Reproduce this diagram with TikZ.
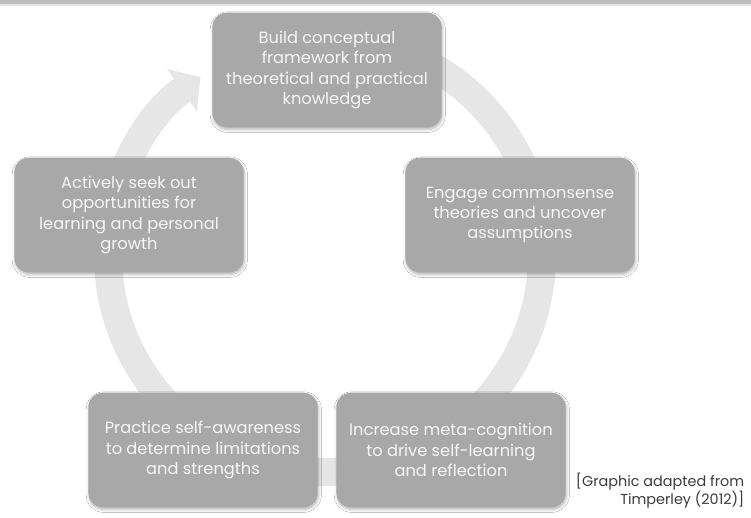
\documentclass[tikz,border=0pt]{standalone}
\usepackage{fontspec}
\setmainfont{Poppins}
\usepackage{xcolor}
\usepackage{tikz}
\usetikzlibrary{arrows.meta,shadows.blur}
\definecolor{boxgray}{RGB}{168,168,168}
\definecolor{ringgray}{RGB}{230,230,230}
\definecolor{bargray}{RGB}{190,190,190}
\definecolor{boxtext}{RGB}{246,246,246}
\definecolor{notetext}{RGB}{60,60,60}

\begin{document}
\begin{tikzpicture}[
		x=0.75pt,
		y=0.75pt,
		stage/.style={
			rounded corners=11pt,
			fill=boxgray,
			blur shadow={
				shadow blur steps=5,
				shadow xshift=0.6pt,
				shadow yshift=-1.6pt,
				shadow opacity=30
			},
			minimum width=172pt,
			minimum height=86pt,
			align=center,
			inner sep=4pt,
			text=boxtext,
			font=\fontsize{12.2}{15.2}\selectfont
		},
		ring/.style={
			draw=ringgray,
			line width=21pt,
			-{Triangle[length=17pt,width=38pt]}
		},
		note/.style={font=\fontsize{10.8}{12.4}\selectfont, text=notetext, align=right}
	]
	
	% Canvas
	\useasboundingbox (0,0) rectangle (751,-518);
	\fill[white] (0,0) rectangle (751,-518);
	
	% Top bar
	\fill[bargray] (0,0) rectangle (751,-4);
	\fill[bargray!40] (0,-4) rectangle (751,-5.5);
	
	% Cycle ring
	\draw[ring] (325,-255) ++(90:217) arc[start angle=90, end angle=-235, radius=217];
	
	% Stages
	\node[stage] (build) at (327,-70) {Build conceptual\\framework from\\theoretical and practical\\knowledge};
	\node[stage] (engage) at (520,-215) {Engage commonsense\\theories and uncover\\assumptions};
	\node[stage] (increase) at (451,-450) {Increase meta-cognition\\to drive self-learning\\and reflection};
	\node[stage] (practice) at (203,-450) {Practice self-awareness\\to determine limitations\\and strengths};
	\node[stage] (seek) at (129,-215) {Actively seek out\\opportunities for\\learning and personal\\growth};
	
	% Source note
	\node[note, anchor=south east] (source) at (749,-513) {[Graphic adapted from\\Timperley (2012)]};
	
\end{tikzpicture}
\end{document}
